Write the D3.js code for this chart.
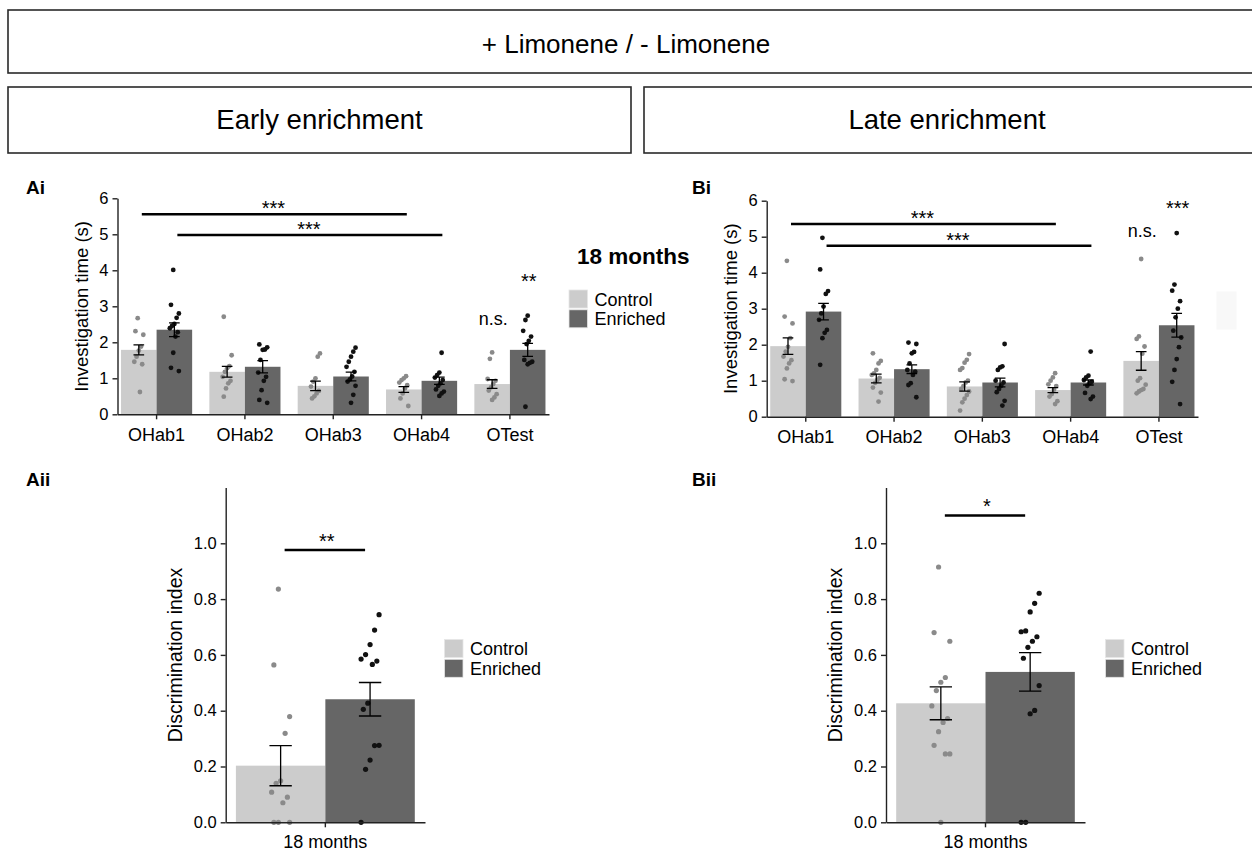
<!DOCTYPE html>
<html><head><meta charset="utf-8">
<script src="https://cdn.jsdelivr.net/npm/d3@7"></script>
<style>
body{margin:0;background:#fff}
svg{display:block}
text{font-family:"Liberation Sans",Arial,Helvetica,sans-serif;fill:#000}
</style>
</head><body>
<svg id="c" width="1252" height="852"></svg>
<script>
// ---------------- DATA ----------------
const categories = ["OHab1", "OHab2", "OHab3", "OHab4", "OTest"];
const groups = ["Control", "Enriched"];
const investigationTicks = [0, 1, 2, 3, 4, 5, 6];
const discriminationTicks = [0, 0.2, 0.4, 0.6, 0.8, 1.0];
const ageLabel = ["18 months"];

// Ai : early enrichment, investigation time (s)
const aiControlMean = [1.79, 1.18, 0.79, 0.69, 0.84];
const aiControlSE = [0.14, 0.15, 0.13, 0.08, 0.12];
const aiEnrichedMean = [2.35, 1.32, 1.05, 0.93, 1.79];
const aiEnrichedSE = [0.19, 0.17, 0.12, 0.10, 0.18];
const aiControlPoints = [
  [2.67, 2.31, 2.21, 1.88, 1.77, 1.60, 1.46, 1.39, 0.62],
  [2.71, 1.64, 1.34, 1.28, 1.18, 1.04, 0.93, 0.86, 0.72, 0.49],
  [1.69, 1.60, 1.00, 0.91, 0.77, 0.65, 0.58, 0.50, 0.44],
  [1.06, 1.00, 0.95, 0.88, 0.81, 0.72, 0.58, 0.44, 0.23],
  [1.72, 1.54, 0.98, 0.93, 0.84, 0.75, 0.66, 0.56, 0.47, 0.40]
];
const aiEnrichedPoints = [
  [4.01, 3.04, 2.80, 2.68, 2.51, 2.46, 2.39, 2.28, 2.16, 1.71, 1.29, 1.20],
  [1.94, 1.86, 1.80, 1.79, 1.51, 1.16, 1.04, 0.93, 0.67, 0.40, 0.32],
  [1.85, 1.74, 1.60, 1.46, 1.32, 1.18, 1.05, 0.97, 0.91, 0.79, 0.54, 0.32],
  [1.71, 1.16, 1.09, 1.02, 0.95, 0.86, 0.79, 0.69, 0.63, 0.58, 0.51],
  [2.74, 2.62, 2.32, 2.16, 2.04, 1.95, 1.51, 1.46, 1.43, 1.39, 0.21]
];
// significance: [from category, from group, to category, to group, height, label]
const aiBrackets = [
  ["OHab1", "Control", "OHab4", "Control", 5.56, "***"],
  ["OHab1", "Enriched", "OHab4", "Enriched", 4.98, "***"]
];
// single labels: [category, group, height, label]
const aiMarks = [["OTest", "Control", 2.48, "n.s."], ["OTest", "Enriched", 3.52, "**"]];

// Bi : late enrichment
const biControlMean = [1.96, 1.06, 0.84, 0.74, 1.55];
const biControlSE = [0.23, 0.12, 0.13, 0.07, 0.26];
const biEnrichedMean = [2.92, 1.32, 0.95, 0.95, 2.54];
const biEnrichedSE = [0.23, 0.12, 0.12, 0.07, 0.33];
const biControlPoints = [
  [4.33, 2.78, 2.59, 2.18, 1.94, 1.81, 1.67, 1.57, 1.48, 1.34, 1.04, 0.99],
  [1.76, 1.55, 1.48, 1.30, 1.20, 1.16, 1.08, 1.02, 0.94, 0.81, 0.67, 0.42],
  [1.74, 1.58, 1.50, 1.35, 1.30, 1.00, 0.95, 0.85, 0.77, 0.70, 0.60, 0.50, 0.40, 0.17],
  [1.21, 1.09, 1.00, 0.90, 0.85, 0.75, 0.63, 0.56, 0.43, 0.35],
  [4.38, 2.23, 2.16, 1.95, 1.75, 1.07, 1.00, 0.89, 0.77, 0.74, 0.70, 0.65]
];
const biEnrichedPoints = [
  [4.97, 4.09, 3.49, 3.41, 3.06, 2.87, 2.69, 2.41, 2.33, 2.18, 1.44],
  [2.06, 2.02, 1.80, 1.76, 1.48, 1.30, 1.25, 1.16, 0.93, 0.88, 0.54],
  [2.02, 1.40, 1.37, 1.30, 1.00, 0.95, 0.86, 0.77, 0.68, 0.44, 0.31],
  [1.81, 1.14, 1.09, 1.02, 0.97, 0.93, 0.86, 0.66, 0.56, 0.49],
  [5.10, 3.67, 3.50, 3.21, 3.00, 2.76, 2.39, 2.20, 1.93, 1.60, 1.30, 0.97, 0.35]
];
const biBrackets = [
  ["OHab1", "Control", "OHab4", "Control", 5.35, "***"],
  ["OHab1", "Enriched", "OHab4", "Enriched", 4.75, "***"]
];
const biMarks = [["OTest", "Control", 4.98, "n.s."], ["OTest", "Enriched", 5.60, "***"]];

// Aii / Bii : discrimination index
const aiiMean = [0.203, 0.441];
const aiiSE = [0.072, 0.060];
const aiiControlPoints = [0.836, 0.564, 0.379, 0.319, 0.149, 0.140, 0.108, 0.090, 0.070, 0, 0, 0];
const aiiEnrichedPoints = [0.744, 0.689, 0.637, 0.601, 0.585, 0.578, 0.566, 0.427, 0.405, 0.276, 0.275, 0.223, 0.190, 0];
const aiiBracket = [0.976, "**"];

const biiMean = [0.4265, 0.539];
const biiSE = [0.059, 0.069];
const biiControlPoints = [0.915, 0.680, 0.649, 0.519, 0.502, 0.472, 0.417, 0.372, 0.358, 0.325, 0.276, 0.245, 0.245, 0];
const biiEnrichedPoints = [0.821, 0.785, 0.754, 0.686, 0.683, 0.665, 0.649, 0.627, 0.588, 0.490, 0.401, 0.389, 0, 0];
const biiBracket = [1.10, "*"];

// ---------------- STYLE ----------------
const barFill = {Control: "#cccccc", Enriched: "#666666"};
const dotFill = {Control: "#8a8a8a", Enriched: "#111111"};
const AXIS = "#222";

const svg = d3.select("#c");

// ---------------- HEADERS ----------------
function headerBox(x, y, w, h, label, cx, base, fs) {
  svg.append("rect").attr("x", x).attr("y", y).attr("width", w).attr("height", h)
    .attr("fill", "#fff").attr("stroke", "#2a2a2a").attr("stroke-width", 1.6);
  svg.append("text").attr("x", cx).attr("y", base).attr("text-anchor", "middle")
    .attr("font-size", fs).text(label);
}
headerBox(8, 10, 1270, 63, "+ Limonene / - Limonene", 626, 52.5, 26);
headerBox(8, 87, 623, 66, "Early enrichment", 319.5, 129, 27.5);
headerBox(644, 87, 623, 66, "Late enrichment", 947, 129, 27.5);

function panelLabel(x, y, t) {
  svg.append("text").attr("x", x).attr("y", y).attr("font-size", 19)
    .attr("font-weight", "bold").text(t);
}
panelLabel(26, 193.5, "Ai");
panelLabel(692, 193.5, "Bi");
panelLabel(26, 486, "Aii");
panelLabel(692, 486, "Bii");

function jitter(i, w) { return (((i * 7 + 3) % 9) - 4) / 4 * w; }

function styleAxis(a, fs) {
  a.select(".domain").attr("stroke", AXIS).attr("stroke-width", 1.4);
  a.selectAll(".tick line").attr("stroke", AXIS).attr("stroke-width", 1.4);
  a.selectAll("text").attr("fill", "#000").attr("font-size", fs);
  a.attr("font-family", null).attr("font-size", null);
}

// ---------------- GROUPED PANELS (Ai, Bi) ----------------
function groupedPanel(o) {
  const g = svg.append("g");
  const x = d3.scaleBand().domain(categories).range(o.xRange).paddingInner(0.195).paddingOuter(0.04);
  const xs = d3.scaleBand().domain(groups).range([0, x.bandwidth()]);
  const y = d3.scaleLinear().domain([0, 6]).range(o.yRange);
  const series = [
    {name: "Control", mean: o.cMean, se: o.cSE, pts: o.cPts},
    {name: "Enriched", mean: o.eMean, se: o.eSE, pts: o.ePts}
  ];
  const cx = (c, gname) => x(c) + xs(gname) + xs.bandwidth() / 2;
  series.forEach(s => {
    g.append("g").selectAll("rect").data(categories).join("rect")
      .attr("x", c => x(c) + xs(s.name)).attr("width", xs.bandwidth())
      .attr("y", (c, i) => y(s.mean[i])).attr("height", (c, i) => y(0) - y(s.mean[i]))
      .attr("fill", barFill[s.name]);
  });
  series.forEach(s => {
    categories.forEach((c, ci) => {
      g.append("g").selectAll("circle").data(s.pts[ci]).join("circle")
        .attr("cx", (v, i) => cx(c, s.name) + jitter(i + ci, 4.5))
        .attr("cy", v => y(v)).attr("r", 2.4).attr("fill", dotFill[s.name]);
    });
  });
  const cap = xs.bandwidth() * 0.15;
  series.forEach(s => {
    categories.forEach((c, ci) => {
      const m = s.mean[ci], e = s.se[ci], px = cx(c, s.name);
      const p = d3.path();
      p.moveTo(px, y(m - e)); p.lineTo(px, y(m + e));
      p.moveTo(px - cap, y(m + e)); p.lineTo(px + cap, y(m + e));
      p.moveTo(px - cap, y(m - e)); p.lineTo(px + cap, y(m - e));
      g.append("path").attr("d", p.toString()).attr("stroke", "#000").attr("stroke-width", 1.3).attr("fill", "none");
    });
  });
  // axes
  const ya = g.append("g").attr("transform", `translate(${o.xRange[0]},0)`)
    .call(d3.axisLeft(y).tickValues(investigationTicks).tickFormat(d3.format("d"))
      .tickSize(5).tickSizeOuter(0).tickPadding(4));
  const xa = g.append("g").attr("transform", `translate(0,${o.yRange[0]})`)
    .call(d3.axisBottom(x).tickSize(5).tickSizeOuter(0).tickPadding(8.5));
  styleAxis(ya, 16.5);
  styleAxis(xa, 18);
  g.append("text").attr("transform", `translate(${o.xRange[0] - 30},${(o.yRange[0] + o.yRange[1]) / 2}) rotate(-90)`)
    .attr("text-anchor", "middle").attr("font-size", 18.5).text("Investigation time (s)");
  // brackets
  o.brackets.forEach(b => {
    const x1 = cx(b[0], b[1]) + 3, x2 = cx(b[2], b[3]) + 3, yy = y(b[4]);
    g.append("line").attr("x1", x1).attr("x2", x2).attr("y1", yy).attr("y2", yy)
      .attr("stroke", "#000").attr("stroke-width", 2.5);
    g.append("text").attr("x", (x1 + x2) / 2 - 1).attr("y", yy + 1).attr("text-anchor", "middle")
      .attr("font-size", 20).text(b[5]);
  });
  o.marks.forEach(m => {
    const isStar = m[3].startsWith("*");
    g.append("text").attr("x", cx(m[0], m[1]) + 1).attr("y", y(m[2])).attr("text-anchor", "middle")
      .attr("font-size", isStar ? 20 : 18).text(m[3]);
  });
  return {x, y};
}

groupedPanel({
  xRange: [117.5, 549], yRange: [414.3, 198.3],
  cMean: aiControlMean, cSE: aiControlSE, eMean: aiEnrichedMean, eSE: aiEnrichedSE,
  cPts: aiControlPoints, ePts: aiEnrichedPoints, brackets: aiBrackets, marks: aiMarks
});
groupedPanel({
  xRange: [766.7, 1198], yRange: [416.7, 200.7],
  cMean: biControlMean, cSE: biControlSE, eMean: biEnrichedMean, eSE: biEnrichedSE,
  cPts: biControlPoints, ePts: biEnrichedPoints, brackets: biBrackets, marks: biMarks
});

// legend
function legend(x, y, title) {
  const g = svg.append("g");
  if (title) {
    g.append("text").attr("x", x + 8).attr("y", y - 26).attr("font-size", 22.5)
      .attr("font-weight", "bold").text(title);
  }
  groups.forEach((gr, i) => {
    g.append("rect").attr("x", x).attr("y", y + i * 19.8).attr("width", 18.5).attr("height", 18)
      .attr("fill", barFill[gr]).attr("stroke", "#e6e6e6").attr("stroke-width", 0.8);
    g.append("text").attr("x", x + 25.5).attr("y", y + i * 19.8 + 9.5).attr("dominant-baseline", "central")
      .attr("font-size", 18).text(gr);
  });
}
legend(569, 290, ageLabel[0]);
// faint ghost box at right of Bi
svg.append("rect").attr("x", 1216.5).attr("y", 291.5).attr("width", 20).attr("height", 38).attr("fill", "#f8f8f8");

// ---------------- SINGLE PANELS (Aii, Bii) ----------------
function diPanel(o) {
  const g = svg.append("g");
  const x = d3.scaleBand().domain(ageLabel).range(o.xRange).paddingInner(0).paddingOuter(0.057);
  const xs = d3.scaleBand().domain(groups).range([0, x.bandwidth()]);
  const y = d3.scaleLinear().domain([0, 1.2]).range([822.3, 487.5]);
  const cx = gname => x(ageLabel[0]) + xs(gname) + xs.bandwidth() / 2;
  g.selectAll("rect").data(groups).join("rect")
    .attr("x", gr => x(ageLabel[0]) + xs(gr)).attr("width", xs.bandwidth())
    .attr("y", (gr, i) => y(o.mean[i])).attr("height", (gr, i) => y(0) - y(o.mean[i]))
    .attr("fill", gr => barFill[gr]);
  [o.cPts, o.ePts].forEach((pts, gi) => {
    g.append("g").selectAll("circle").data(pts).join("circle")
      .attr("cx", (v, i) => cx(groups[gi]) + jitter(i + gi * 2, 9))
      .attr("cy", v => y(v)).attr("r", 2.6).attr("fill", dotFill[groups[gi]]);
  });
  const cap = xs.bandwidth() * 0.125;
  groups.forEach((gr, i) => {
    const m = o.mean[i], e = o.se[i], px = cx(gr);
    const p = d3.path();
    p.moveTo(px, y(m - e)); p.lineTo(px, y(m + e));
    p.moveTo(px - cap, y(m + e)); p.lineTo(px + cap, y(m + e));
    p.moveTo(px - cap, y(m - e)); p.lineTo(px + cap, y(m - e));
    g.append("path").attr("d", p.toString()).attr("stroke", "#000").attr("stroke-width", 1.3).attr("fill", "none");
  });
  const ya = g.append("g").attr("transform", `translate(${o.xRange[0]},0)`)
    .call(d3.axisLeft(y).tickValues(discriminationTicks).tickFormat(d3.format(".1f")).tickSize(5).tickSizeOuter(0).tickPadding(4));
  const xa = g.append("g").attr("transform", `translate(0,${y(0)})`)
    .call(d3.axisBottom(x).tickSize(5).tickSizeOuter(0).tickPadding(8));
  styleAxis(ya, 16.5);
  styleAxis(xa, 18);
  g.append("text").attr("transform", `translate(${o.xRange[0] - 44},655) rotate(-90)`)
    .attr("text-anchor", "middle").attr("font-size", 19.5).text("Discrimination index");
  const x1 = cx("Control") + 4, x2 = cx("Enriched") - 5, yy = y(o.bracket[0]);
  g.append("line").attr("x1", x1).attr("x2", x2).attr("y1", yy).attr("y2", yy)
    .attr("stroke", "#000").attr("stroke-width", 2.5);
  g.append("text").attr("x", (x1 + x2) / 2 + 2).attr("y", yy - 2).attr("text-anchor", "middle")
    .attr("font-size", 20).text(o.bracket[1]);
  legend(o.legendX, 639.5, null);
}

diPanel({xRange: [225.7, 425], mean: aiiMean, se: aiiSE, cPts: aiiControlPoints, ePts: aiiEnrichedPoints,
  bracket: aiiBracket, legendX: 444.5});
diPanel({xRange: [886, 1085], mean: biiMean, se: biiSE, cPts: biiControlPoints, ePts: biiEnrichedPoints,
  bracket: biiBracket, legendX: 1105.5});
</script>
</body></html>
